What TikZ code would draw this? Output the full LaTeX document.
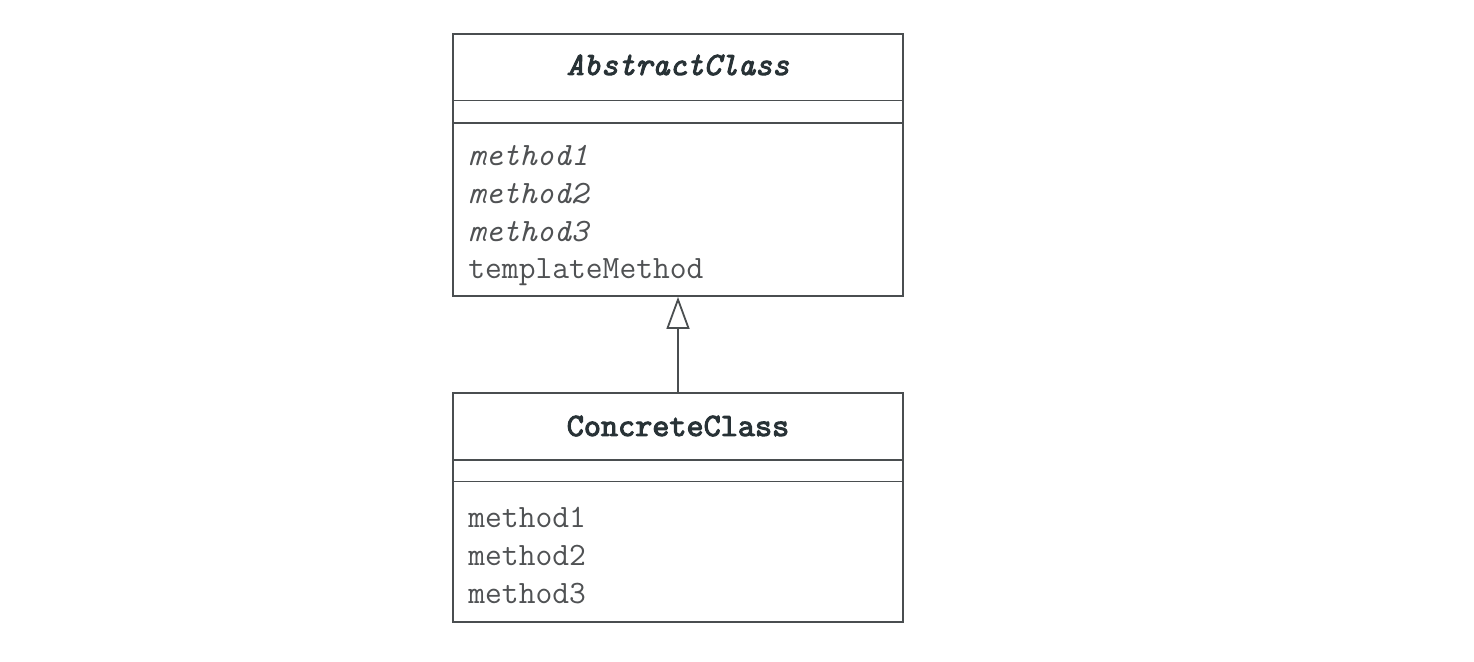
\documentclass[tikz,border=0pt]{standalone}
\usepackage{fontspec}
\usetikzlibrary{arrows.meta}
\newfontfamily\umlboldfont{lmmono10-regular.otf}[FakeBold=3]
\newfontfamily\umlbolditfont{lmmono10-italic.otf}[FakeBold=3]
\definecolor{rule}{HTML}{4A4E50}
\definecolor{titleink}{HTML}{283236}
\definecolor{bodyink}{HTML}{505254}
\newcommand{\umlsize}{\fontsize{16.3}{20}\selectfont}
\begin{document}
\begin{tikzpicture}[x=0.5pt,y=-0.5pt,
  classbox/.style={draw=rule, line width=0.9pt, minimum width=225pt, inner sep=0pt},
  sepline/.style={draw=rule, line width=0.9pt},
  classname/.style={anchor=base, font=\umlsize\umlboldfont, text=titleink, inner sep=0pt},
  member/.style={anchor=base west, font=\umlsize\ttfamily, text=bodyink, inner sep=0pt},
  abstractmember/.style={member, font=\umlsize\ttfamily\itshape},
  inherits/.style={draw=rule, line width=0.9pt, -{Triangle[open, length=16pt, width=11.5pt, line width=0.9pt]}}]
\useasboundingbox (0,0) rectangle (1474,662);

% abstract class
\node[classbox, minimum height=131pt] (abs) at (678,165) {};
\draw[sepline] (452.5,100.5) coordinate (absA) -- (903.5,100.5) coordinate (absB);
\draw[sepline] (452.5,123) coordinate (absC) -- (903.5,123) coordinate (absD);
\node[classname, font=\umlsize\umlbolditfont] (absname) at (678,75) {AbstractClass};
\node[abstractmember] (am1) at (468,166) {method1};
\node[abstractmember] (am2) at (468,204) {method2};
\node[abstractmember] (am3) at (468,241.5) {method3};
\node[member] (atm) at (468,279) {templateMethod};

% concrete class
\node[classbox, minimum height=114.5pt] (con) at (678,507.5) {};
\draw[sepline] (452.5,460) coordinate (conA) -- (903.5,460) coordinate (conB);
\draw[sepline] (452.5,481.5) coordinate (conC) -- (903.5,481.5) coordinate (conD);
\node[classname] (conname) at (678,436) {ConcreteClass};
\node[member] (cm1) at (468,528) {method1};
\node[member] (cm2) at (468,566) {method2};
\node[member] (cm3) at (468,603.5) {method3};

% generalization
\draw[inherits] (con.north) -- (abs.south);
\end{tikzpicture}
\end{document}
